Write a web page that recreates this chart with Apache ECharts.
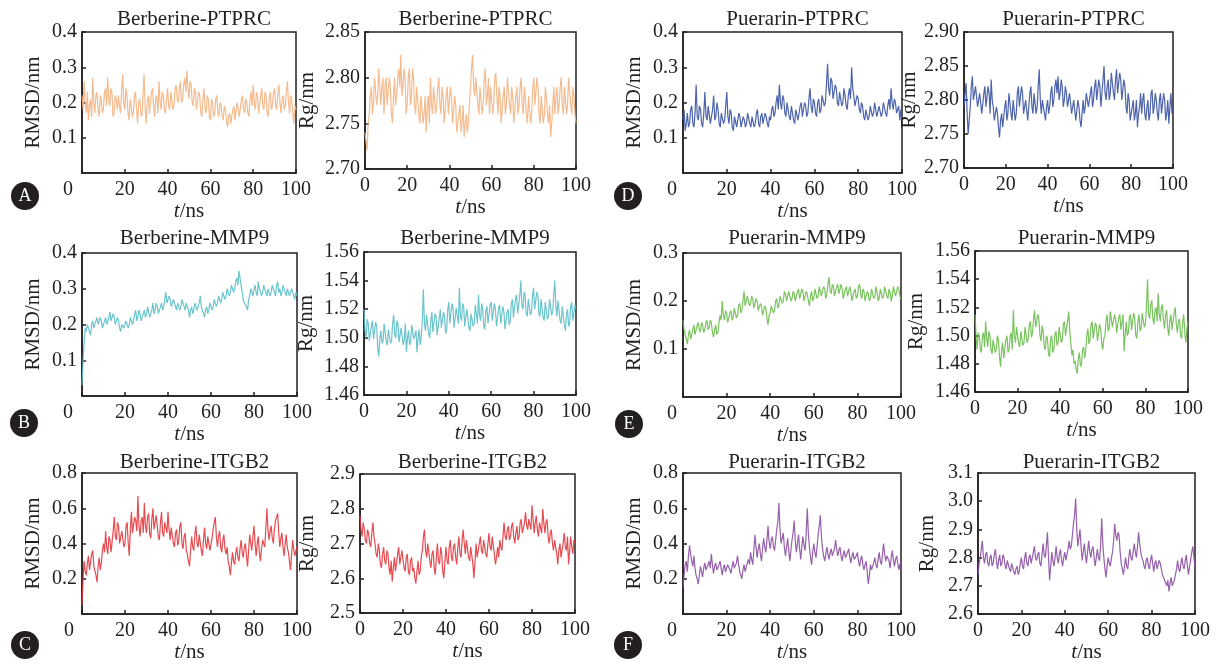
<!DOCTYPE html>
<html>
<head>
<meta charset="utf-8">
<script src="https://cdn.jsdelivr.net/npm/echarts@6/dist/echarts.min.js"></script>
<style>
  html, body { margin: 0; padding: 0; background: #ffffff; }
  #chart { width: 1218px; height: 664px; }
</style>
</head>
<body>
<div id="chart"></div>
<script>
// Molecular dynamics traces sampled every 0.5 ns over 0–100 ns.
const T_END_NS = 100;

const panelTitles = [
  'Berberine-PTPRC', 'Berberine-PTPRC', 'Puerarin-PTPRC', 'Puerarin-PTPRC',
  'Berberine-MMP9', 'Berberine-MMP9', 'Puerarin-MMP9', 'Puerarin-MMP9',
  'Berberine-ITGB2', 'Berberine-ITGB2', 'Puerarin-ITGB2', 'Puerarin-ITGB2'
];
const panelLetters = ['A', 'B', 'C', 'D', 'E', 'F'];
const xTicks = [0, 20, 40, 60, 80, 100];

// RMSD / Rg values in nm
const rmsdBerberinePTPRC = [0.22,0.18,0.26,0.2,0.17,0.23,0.15,0.19,0.21,0.16,0.27,0.2,0.17,0.22,0.23,0.18,0.16,0.22,0.21,0.17,0.18,0.23,0.24,0.19,0.27,0.21,0.19,0.24,0.23,0.16,0.17,0.22,0.21,0.18,0.22,0.19,0.17,0.23,0.28,0.2,0.18,0.24,0.22,0.17,0.15,0.21,0.19,0.16,0.17,0.22,0.23,0.18,0.14,0.2,0.21,0.17,0.16,0.22,0.28,0.19,0.14,0.2,0.22,0.17,0.17,0.23,0.24,0.18,0.16,0.22,0.21,0.17,0.26,0.2,0.18,0.23,0.22,0.18,0.17,0.21,0.24,0.19,0.18,0.23,0.23,0.18,0.19,0.24,0.25,0.21,0.2,0.24,0.26,0.2,0.21,0.25,0.27,0.23,0.29,0.24,0.21,0.26,0.25,0.2,0.19,0.24,0.23,0.18,0.18,0.23,0.22,0.17,0.16,0.21,0.24,0.18,0.17,0.22,0.21,0.16,0.15,0.21,0.2,0.16,0.17,0.21,0.22,0.17,0.16,0.2,0.19,0.16,0.15,0.19,0.18,0.15,0.13,0.16,0.17,0.14,0.14,0.18,0.19,0.15,0.15,0.2,0.2,0.16,0.16,0.21,0.22,0.18,0.17,0.21,0.2,0.17,0.16,0.21,0.23,0.19,0.25,0.2,0.18,0.23,0.22,0.17,0.17,0.22,0.24,0.19,0.18,0.23,0.22,0.17,0.16,0.21,0.23,0.18,0.19,0.23,0.24,0.19,0.18,0.23,0.25,0.2,0.17,0.21,0.22,0.18,0.19,0.23,0.26,0.2,0.17,0.22,0.21,0.17,0.14,0.19,0.18];
const rgBerberinePTPRC = [2.74,2.73,2.72,2.75,2.76,2.78,2.79,2.76,2.77,2.8,2.8,2.77,2.78,2.81,2.81,2.77,2.79,2.8,2.76,2.79,2.8,2.77,2.77,2.8,2.79,2.76,2.75,2.78,2.8,2.77,2.78,2.8,2.81,2.79,2.825,2.78,2.79,2.81,2.8,2.76,2.77,2.8,2.81,2.77,2.78,2.81,2.8,2.77,2.76,2.79,2.79,2.76,2.75,2.78,2.78,2.75,2.76,2.78,2.74,2.77,2.78,2.75,2.8,2.77,2.76,2.79,2.79,2.76,2.77,2.79,2.8,2.77,2.76,2.79,2.78,2.75,2.75,2.78,2.79,2.76,2.76,2.79,2.78,2.75,2.75,2.78,2.77,2.74,2.74,2.76,2.77,2.74,2.75,2.77,2.735,2.75,2.76,2.74,2.75,2.77,2.79,2.81,2.825,2.79,2.78,2.8,2.8,2.77,2.76,2.79,2.79,2.76,2.77,2.8,2.81,2.77,2.78,2.8,2.76,2.79,2.79,2.76,2.77,2.8,2.805,2.78,2.76,2.79,2.78,2.75,2.75,2.78,2.79,2.76,2.77,2.8,2.8,2.77,2.76,2.79,2.78,2.75,2.75,2.78,2.79,2.76,2.77,2.79,2.8,2.77,2.76,2.79,2.79,2.76,2.75,2.78,2.78,2.75,2.76,2.79,2.8,2.77,2.77,2.8,2.79,2.76,2.75,2.78,2.78,2.75,2.76,2.79,2.79,2.76,2.75,2.77,2.735,2.75,2.77,2.79,2.76,2.78,2.79,2.76,2.77,2.79,2.8,2.77,2.76,2.79,2.79,2.76,2.77,2.8,2.8,2.77,2.76,2.79,2.78,2.76,2.75];
const rmsdPuerarinPTPRC = [0.15,0.18,0.12,0.14,0.17,0.13,0.14,0.18,0.19,0.14,0.13,0.17,0.25,0.16,0.15,0.19,0.18,0.14,0.13,0.17,0.23,0.16,0.15,0.19,0.19,0.14,0.14,0.18,0.22,0.15,0.16,0.2,0.18,0.14,0.13,0.17,0.17,0.14,0.15,0.19,0.23,0.16,0.14,0.18,0.17,0.13,0.12,0.16,0.16,0.13,0.13,0.17,0.16,0.13,0.13,0.16,0.15,0.13,0.14,0.17,0.17,0.14,0.13,0.16,0.16,0.13,0.14,0.17,0.18,0.14,0.13,0.16,0.17,0.14,0.14,0.17,0.16,0.14,0.13,0.16,0.15,0.18,0.19,0.16,0.17,0.2,0.22,0.18,0.25,0.2,0.18,0.22,0.21,0.17,0.16,0.2,0.2,0.16,0.15,0.19,0.19,0.15,0.14,0.18,0.18,0.15,0.15,0.19,0.2,0.16,0.16,0.2,0.19,0.16,0.17,0.21,0.24,0.19,0.17,0.21,0.2,0.17,0.16,0.2,0.21,0.17,0.18,0.22,0.22,0.19,0.2,0.25,0.31,0.24,0.22,0.27,0.26,0.21,0.21,0.25,0.24,0.2,0.19,0.23,0.23,0.19,0.2,0.24,0.22,0.19,0.18,0.22,0.24,0.21,0.3,0.24,0.22,0.19,0.19,0.22,0.21,0.18,0.17,0.2,0.19,0.16,0.15,0.18,0.18,0.15,0.16,0.19,0.19,0.16,0.17,0.2,0.2,0.16,0.16,0.19,0.19,0.16,0.17,0.2,0.2,0.17,0.16,0.19,0.21,0.18,0.24,0.2,0.18,0.21,0.2,0.17,0.17,0.19,0.15,0.18,0.16];
const rgPuerarinPTPRC = [2.79,2.81,2.825,2.78,2.75,2.77,2.79,2.82,2.835,2.8,2.8,2.82,2.82,2.79,2.79,2.81,2.81,2.78,2.78,2.81,2.82,2.79,2.79,2.82,2.81,2.78,2.83,2.8,2.79,2.77,2.77,2.79,2.78,2.76,2.745,2.77,2.78,2.76,2.76,2.79,2.8,2.77,2.78,2.81,2.81,2.78,2.77,2.8,2.8,2.77,2.78,2.81,2.82,2.79,2.79,2.82,2.81,2.78,2.78,2.8,2.8,2.77,2.79,2.81,2.82,2.79,2.78,2.81,2.81,2.78,2.79,2.82,2.845,2.8,2.78,2.8,2.8,2.78,2.77,2.79,2.8,2.78,2.79,2.81,2.82,2.79,2.8,2.82,2.83,2.81,2.835,2.8,2.81,2.83,2.82,2.79,2.8,2.82,2.81,2.79,2.79,2.81,2.81,2.78,2.78,2.8,2.8,2.77,2.77,2.8,2.79,2.77,2.76,2.78,2.8,2.78,2.79,2.81,2.81,2.79,2.79,2.81,2.82,2.79,2.8,2.82,2.83,2.8,2.8,2.83,2.82,2.79,2.81,2.83,2.85,2.81,2.8,2.82,2.83,2.8,2.81,2.84,2.84,2.81,2.8,2.83,2.845,2.81,2.81,2.84,2.83,2.8,2.8,2.83,2.82,2.79,2.78,2.81,2.8,2.77,2.77,2.79,2.8,2.77,2.78,2.8,2.76,2.78,2.79,2.81,2.78,2.8,2.81,2.78,2.77,2.79,2.8,2.77,2.78,2.81,2.815,2.78,2.79,2.81,2.8,2.78,2.77,2.8,2.81,2.78,2.78,2.81,2.8,2.77,2.78,2.8,2.765,2.79,2.81,2.78,2.79];
const rmsdBerberineMMP9 = [0.03,0.1,0.15,0.19,0.18,0.2,0.2,0.18,0.17,0.2,0.21,0.19,0.19,0.21,0.22,0.2,0.2,0.22,0.21,0.19,0.19,0.21,0.22,0.2,0.2,0.22,0.235,0.21,0.21,0.23,0.22,0.2,0.2,0.22,0.21,0.19,0.18,0.2,0.2,0.19,0.19,0.21,0.21,0.19,0.2,0.22,0.22,0.2,0.21,0.23,0.24,0.21,0.22,0.24,0.23,0.21,0.21,0.23,0.24,0.22,0.23,0.25,0.25,0.22,0.22,0.24,0.26,0.23,0.24,0.26,0.25,0.23,0.23,0.25,0.26,0.24,0.25,0.27,0.29,0.26,0.26,0.28,0.27,0.25,0.25,0.27,0.27,0.25,0.24,0.26,0.26,0.24,0.25,0.27,0.27,0.25,0.24,0.26,0.26,0.24,0.22,0.24,0.25,0.23,0.24,0.26,0.26,0.24,0.24,0.26,0.28,0.25,0.25,0.23,0.22,0.24,0.25,0.23,0.24,0.26,0.26,0.24,0.25,0.27,0.27,0.25,0.26,0.28,0.28,0.26,0.27,0.29,0.29,0.27,0.28,0.3,0.3,0.28,0.29,0.31,0.31,0.29,0.3,0.32,0.33,0.31,0.35,0.33,0.31,0.29,0.27,0.26,0.26,0.25,0.24,0.27,0.28,0.3,0.29,0.28,0.3,0.31,0.29,0.28,0.32,0.3,0.3,0.28,0.29,0.31,0.31,0.29,0.28,0.3,0.3,0.28,0.29,0.31,0.31,0.29,0.28,0.31,0.32,0.29,0.3,0.28,0.29,0.31,0.31,0.29,0.28,0.3,0.3,0.28,0.28,0.3,0.3,0.28,0.27,0.29,0.28];
const rgBerberineMMP9 = [1.52,1.505,1.5,1.513,1.51,1.498,1.497,1.508,1.512,1.499,1.5,1.511,1.508,1.492,1.487,1.5,1.505,1.496,1.498,1.51,1.51,1.497,1.495,1.506,1.507,1.496,1.498,1.51,1.516,1.502,1.5,1.512,1.51,1.497,1.496,1.507,1.508,1.495,1.499,1.51,1.49,1.5,1.505,1.495,1.497,1.509,1.51,1.499,1.498,1.505,1.49,1.5,1.506,1.495,1.5,1.512,1.534,1.51,1.505,1.516,1.515,1.503,1.5,1.512,1.518,1.504,1.505,1.517,1.515,1.502,1.502,1.514,1.52,1.507,1.506,1.518,1.515,1.503,1.505,1.52,1.525,1.51,1.51,1.524,1.52,1.507,1.508,1.521,1.522,1.51,1.535,1.515,1.512,1.524,1.522,1.508,1.508,1.52,1.52,1.507,1.505,1.517,1.518,1.508,1.51,1.523,1.522,1.51,1.53,1.516,1.512,1.524,1.52,1.508,1.506,1.519,1.522,1.51,1.51,1.523,1.525,1.512,1.512,1.524,1.52,1.508,1.508,1.52,1.523,1.51,1.51,1.522,1.518,1.506,1.505,1.518,1.52,1.509,1.512,1.524,1.527,1.514,1.515,1.528,1.53,1.517,1.518,1.53,1.54,1.522,1.52,1.532,1.53,1.517,1.515,1.527,1.528,1.516,1.518,1.53,1.535,1.52,1.52,1.532,1.53,1.517,1.515,1.527,1.528,1.514,1.512,1.525,1.525,1.513,1.515,1.527,1.528,1.516,1.518,1.53,1.54,1.522,1.515,1.526,1.525,1.512,1.51,1.522,1.522,1.509,1.505,1.516,1.52,1.508,1.51,1.522,1.525,1.512,1.512,1.523,1.52];
const rmsdPuerarinMMP9 = [0.16,0.14,0.13,0.12,0.11,0.13,0.14,0.12,0.12,0.14,0.15,0.13,0.13,0.15,0.155,0.14,0.135,0.155,0.15,0.135,0.14,0.155,0.16,0.14,0.145,0.16,0.155,0.135,0.125,0.14,0.15,0.13,0.135,0.155,0.17,0.16,0.2,0.17,0.16,0.18,0.175,0.155,0.155,0.175,0.18,0.16,0.165,0.185,0.185,0.165,0.17,0.19,0.195,0.175,0.18,0.2,0.22,0.19,0.19,0.21,0.21,0.19,0.195,0.21,0.205,0.185,0.185,0.205,0.2,0.18,0.18,0.195,0.19,0.17,0.17,0.19,0.185,0.165,0.15,0.17,0.175,0.19,0.19,0.175,0.18,0.2,0.205,0.185,0.19,0.21,0.21,0.195,0.2,0.22,0.215,0.2,0.2,0.22,0.22,0.2,0.205,0.22,0.215,0.2,0.2,0.22,0.225,0.205,0.205,0.225,0.22,0.2,0.2,0.22,0.215,0.2,0.19,0.21,0.22,0.2,0.205,0.225,0.225,0.205,0.21,0.23,0.23,0.21,0.21,0.23,0.225,0.205,0.215,0.235,0.25,0.22,0.215,0.235,0.23,0.21,0.21,0.23,0.235,0.215,0.215,0.235,0.225,0.205,0.205,0.225,0.23,0.21,0.21,0.23,0.22,0.2,0.2,0.22,0.225,0.205,0.21,0.23,0.235,0.215,0.205,0.225,0.22,0.2,0.2,0.22,0.215,0.2,0.205,0.225,0.225,0.205,0.21,0.23,0.22,0.2,0.205,0.225,0.225,0.205,0.21,0.23,0.23,0.21,0.205,0.225,0.22,0.2,0.21,0.23,0.23,0.21,0.21,0.23,0.225,0.21,0.205];
const rgPuerarinMMP9 = [1.515,1.5,1.49,1.502,1.5,1.49,1.488,1.5,1.502,1.492,1.51,1.498,1.492,1.503,1.5,1.49,1.487,1.497,1.498,1.488,1.49,1.5,1.497,1.485,1.478,1.49,1.495,1.484,1.485,1.497,1.5,1.488,1.49,1.5,1.502,1.49,1.518,1.5,1.495,1.506,1.505,1.494,1.492,1.503,1.503,1.493,1.495,1.506,1.505,1.495,1.498,1.508,1.51,1.499,1.502,1.512,1.518,1.506,1.505,1.515,1.512,1.5,1.496,1.507,1.503,1.492,1.49,1.5,1.498,1.487,1.485,1.497,1.5,1.488,1.49,1.501,1.503,1.493,1.495,1.506,1.507,1.495,1.497,1.508,1.51,1.5,1.5,1.511,1.517,1.503,1.495,1.486,1.49,1.48,1.482,1.476,1.473,1.484,1.488,1.478,1.48,1.49,1.492,1.484,1.49,1.5,1.505,1.494,1.497,1.508,1.51,1.498,1.498,1.509,1.507,1.496,1.497,1.508,1.505,1.494,1.49,1.498,1.5,1.51,1.515,1.503,1.505,1.517,1.518,1.506,1.505,1.515,1.512,1.502,1.502,1.513,1.515,1.504,1.505,1.515,1.489,1.5,1.51,1.5,1.502,1.513,1.515,1.504,1.505,1.516,1.512,1.5,1.498,1.51,1.515,1.503,1.505,1.516,1.517,1.506,1.508,1.52,1.54,1.515,1.512,1.522,1.525,1.512,1.508,1.518,1.52,1.51,1.53,1.515,1.51,1.52,1.522,1.51,1.505,1.515,1.518,1.505,1.5,1.511,1.515,1.504,1.505,1.516,1.52,1.508,1.502,1.51,1.512,1.5,1.498,1.51,1.515,1.502,1.495,1.505,1.51];
const rmsdBerberineITGB2 = [0.05,0.2,0.3,0.24,0.22,0.29,0.33,0.25,0.26,0.34,0.36,0.27,0.28,0.22,0.18,0.27,0.32,0.25,0.29,0.36,0.4,0.35,0.47,0.38,0.34,0.44,0.42,0.35,0.36,0.47,0.55,0.44,0.42,0.52,0.5,0.4,0.39,0.47,0.48,0.38,0.4,0.5,0.52,0.4,0.33,0.48,0.58,0.46,0.45,0.55,0.53,0.47,0.67,0.5,0.44,0.53,0.55,0.46,0.63,0.5,0.46,0.55,0.57,0.45,0.43,0.54,0.6,0.48,0.47,0.56,0.55,0.44,0.42,0.52,0.58,0.46,0.44,0.52,0.53,0.46,0.58,0.48,0.42,0.49,0.5,0.4,0.38,0.46,0.48,0.39,0.41,0.5,0.52,0.4,0.37,0.44,0.46,0.36,0.34,0.3,0.27,0.36,0.44,0.38,0.36,0.45,0.5,0.4,0.38,0.45,0.46,0.36,0.33,0.42,0.49,0.4,0.37,0.44,0.45,0.36,0.35,0.43,0.48,0.52,0.55,0.44,0.38,0.44,0.47,0.38,0.35,0.42,0.45,0.37,0.34,0.38,0.3,0.27,0.22,0.29,0.35,0.3,0.28,0.34,0.38,0.32,0.3,0.37,0.42,0.35,0.32,0.38,0.4,0.33,0.27,0.36,0.45,0.4,0.36,0.44,0.5,0.4,0.33,0.4,0.44,0.35,0.3,0.37,0.42,0.4,0.38,0.48,0.6,0.48,0.42,0.47,0.5,0.43,0.4,0.48,0.53,0.55,0.57,0.46,0.38,0.43,0.46,0.38,0.33,0.4,0.45,0.38,0.35,0.3,0.25,0.34,0.42,0.36,0.33,0.36,0.38];
const rgBerberineITGB2 = [2.78,2.74,2.72,2.76,2.74,2.71,2.7,2.74,2.73,2.7,2.69,2.73,2.76,2.72,2.7,2.67,2.66,2.7,2.68,2.64,2.63,2.67,2.69,2.65,2.64,2.68,2.67,2.63,2.61,2.65,2.59,2.63,2.66,2.62,2.62,2.67,2.69,2.64,2.64,2.68,2.68,2.63,2.62,2.66,2.67,2.62,2.61,2.65,2.66,2.62,2.63,2.6,2.585,2.62,2.65,2.61,2.62,2.66,2.68,2.72,2.74,2.68,2.66,2.7,2.7,2.65,2.63,2.67,2.68,2.63,2.61,2.66,2.7,2.65,2.64,2.69,2.67,2.62,2.6,2.65,2.69,2.65,2.64,2.69,2.71,2.66,2.65,2.69,2.7,2.66,2.64,2.69,2.72,2.67,2.66,2.71,2.74,2.7,2.67,2.71,2.71,2.66,2.65,2.69,2.69,2.64,2.6,2.65,2.7,2.66,2.66,2.7,2.72,2.68,2.67,2.71,2.71,2.67,2.66,2.7,2.73,2.69,2.68,2.72,2.72,2.67,2.64,2.66,2.69,2.66,2.71,2.69,2.68,2.72,2.76,2.72,2.71,2.74,2.75,2.71,2.72,2.75,2.76,2.72,2.7,2.73,2.75,2.71,2.72,2.76,2.77,2.73,2.73,2.76,2.79,2.75,2.74,2.77,2.77,2.74,2.81,2.77,2.73,2.76,2.78,2.74,2.72,2.76,2.76,2.73,2.8,2.76,2.73,2.76,2.77,2.72,2.7,2.73,2.74,2.7,2.68,2.71,2.71,2.67,2.64,2.68,2.7,2.66,2.66,2.7,2.73,2.69,2.68,2.72,2.64,2.68,2.72,2.69,2.67,2.71,2.7];
const rmsdPuerarinITGB2 = [0.15,0.22,0.28,0.3,0.24,0.33,0.39,0.34,0.3,0.27,0.33,0.26,0.22,0.2,0.17,0.22,0.27,0.24,0.21,0.26,0.29,0.25,0.24,0.28,0.3,0.26,0.34,0.28,0.23,0.27,0.29,0.25,0.24,0.28,0.3,0.26,0.22,0.26,0.28,0.24,0.24,0.28,0.29,0.25,0.23,0.27,0.3,0.26,0.25,0.29,0.33,0.28,0.24,0.22,0.2,0.25,0.28,0.24,0.25,0.29,0.31,0.28,0.35,0.31,0.28,0.36,0.45,0.38,0.32,0.37,0.4,0.34,0.3,0.37,0.43,0.38,0.35,0.42,0.5,0.41,0.37,0.42,0.44,0.38,0.36,0.42,0.48,0.52,0.63,0.48,0.4,0.43,0.46,0.38,0.33,0.38,0.43,0.36,0.3,0.36,0.42,0.46,0.53,0.42,0.35,0.4,0.45,0.37,0.31,0.38,0.44,0.39,0.36,0.45,0.6,0.46,0.38,0.32,0.28,0.35,0.4,0.35,0.32,0.38,0.45,0.5,0.56,0.44,0.37,0.33,0.3,0.34,0.38,0.34,0.31,0.35,0.37,0.33,0.32,0.37,0.42,0.37,0.33,0.36,0.38,0.33,0.3,0.34,0.36,0.32,0.31,0.35,0.37,0.32,0.29,0.33,0.35,0.31,0.3,0.33,0.35,0.3,0.27,0.31,0.33,0.28,0.25,0.28,0.3,0.24,0.17,0.22,0.28,0.25,0.24,0.29,0.32,0.28,0.26,0.31,0.35,0.3,0.28,0.34,0.4,0.34,0.3,0.33,0.34,0.3,0.26,0.32,0.36,0.31,0.27,0.31,0.33,0.29,0.25,0.28,0.3];
const rgPuerarinITGB2 = [2.74,2.78,2.8,2.83,2.86,2.8,2.78,2.81,2.82,2.78,2.77,2.8,2.81,2.77,2.78,2.81,2.83,2.79,2.76,2.79,2.81,2.77,2.78,2.81,2.8,2.77,2.76,2.79,2.79,2.76,2.75,2.78,2.78,2.75,2.74,2.76,2.77,2.74,2.75,2.78,2.8,2.77,2.76,2.8,2.82,2.78,2.77,2.8,2.81,2.78,2.78,2.82,2.84,2.8,2.79,2.81,2.82,2.78,2.77,2.81,2.85,2.81,2.8,2.84,2.89,2.8,2.72,2.77,2.82,2.79,2.77,2.8,2.84,2.8,2.78,2.81,2.83,2.79,2.77,2.8,2.82,2.79,2.79,2.83,2.86,2.83,2.84,2.88,2.92,2.95,3.01,2.9,2.84,2.87,2.9,2.84,2.79,2.82,2.85,2.81,2.78,2.82,2.86,2.82,2.8,2.83,2.84,2.8,2.77,2.8,2.83,2.8,2.79,2.84,2.94,2.85,2.8,2.76,2.73,2.77,2.8,2.78,2.77,2.8,2.82,2.86,2.92,2.88,2.86,2.89,2.88,2.82,2.78,2.76,2.74,2.77,2.8,2.77,2.76,2.8,2.83,2.8,2.79,2.82,2.85,2.82,2.8,2.84,2.89,2.85,2.82,2.8,2.79,2.77,2.76,2.79,2.8,2.77,2.76,2.79,2.81,2.78,2.75,2.78,2.79,2.76,2.76,2.79,2.78,2.76,2.74,2.73,2.72,2.71,2.7,2.72,2.68,2.71,2.73,2.7,2.7,2.72,2.74,2.76,2.79,2.76,2.75,2.78,2.8,2.77,2.76,2.79,2.81,2.77,2.74,2.77,2.79,2.82,2.84,2.8,2.77];

const INK = '#231F20';
const FONT = '"Liberation Serif", "DejaVu Serif", serif';

// Panel order: row by row, left to right
const seriesValues = [
  rmsdBerberinePTPRC, rgBerberinePTPRC, rmsdPuerarinPTPRC, rgPuerarinPTPRC,
  rmsdBerberineMMP9, rgBerberineMMP9, rmsdPuerarinMMP9, rgPuerarinMMP9,
  rmsdBerberineITGB2, rgBerberineITGB2, rmsdPuerarinITGB2, rgPuerarinITGB2
];
const lineColors = [
  '#F4B483', '#F4B483', '#3A52A3', '#3A52A3',
  '#5BBFC8', '#5BBFC8', '#6CBD4E', '#6CBD4E',
  '#E2383F', '#E2383F', '#8B4FA2', '#8B4FA2'
];
// y scale: [min, max, step, decimals]
const yScales = [
  [0, 0.4, 0.1, 1], [2.70, 2.85, 0.05, 2], [0, 0.4, 0.1, 1], [2.70, 2.90, 0.05, 2],
  [0, 0.4, 0.1, 1], [1.46, 1.56, 0.02, 2], [0, 0.3, 0.1, 1], [1.46, 1.56, 0.02, 2],
  [0, 0.8, 0.2, 1], [2.5, 2.9, 0.1, 1], [0, 0.8, 0.2, 1], [2.6, 3.1, 0.1, 1]
];
const isRmsd = [true, false, true, false, true, false, true, false, true, false, true, false];

// Plot boxes: [left, top, width, height, yNameGap, zeroShift]
const boxes = [
  [82, 32, 214, 141, 38, 14], [365, 32, 211, 137, 47, 0], [683, 32, 219, 141, 38, 11], [964, 32, 209, 136, 44, 0],
  [82, 253, 215, 143, 38, 14], [364, 252, 212, 143, 47, 0], [683, 253, 218, 144, 38, 11], [975, 251, 213, 141, 48, 0],
  [82, 473, 215, 141, 38, 13], [360, 474, 215, 139, 42, 0], [683, 473, 218, 141, 38, 11], [978, 473, 217, 142, 40, 0]
];
const titleTops = [4, 223, 447];
const badgeSpots = [[25, 196], [24, 423], [25, 645], [628, 196], [629, 424], [628, 645]];

const textBase = { fontFamily: FONT, fontSize: 20, color: INK };
const nameBase = Object.assign({}, textBase, { fontSize: 21 });

const grids = [], xAxes = [], yAxes = [], series = [], titles = [];
boxes.forEach((b, i) => {
  const [left, top, width, height, yGap, zeroShift] = b;
  const [yMin, yMax, yStep, dec] = yScales[i];
  const values = seriesValues[i];
  grids.push({
    left, top, width, height, show: true,
    borderColor: INK, borderWidth: 1.5, backgroundColor: 'transparent', containLabel: false
  });
  titles.push({
    text: panelTitles[i], left: left + width / 2, top: titleTops[Math.floor(i / 4)],
    textAlign: 'center',
    textStyle: Object.assign({}, nameBase, { fontWeight: 'normal' })
  });
  xAxes.push({
    gridIndex: i, type: 'value', min: xTicks[0], max: xTicks[xTicks.length - 1], interval: 20,
    axisLine: { show: true, onZero: false, lineStyle: { color: INK, width: 1.5 } },
    axisTick: { show: true, inside: true, length: 4, lineStyle: { color: INK, width: 1.5 } },
    splitLine: { show: false },
    axisLabel: Object.assign({}, textBase, {
      margin: 7,
      formatter: v => (v === 0 && zeroShift) ? '{z|0}' : String(v),
      rich: { z: Object.assign({}, textBase, { padding: [0, zeroShift * 2, 0, 0] }) }
    }),
    name: '{i|t}/ns', nameLocation: 'middle', nameGap: 26,
    nameTextStyle: Object.assign({}, nameBase, {
      rich: { i: Object.assign({}, nameBase, { fontStyle: 'italic' }) }
    })
  });
  yAxes.push({
    gridIndex: i, type: 'value', min: yMin, max: yMax, interval: yStep,
    axisLine: { show: true, onZero: false, lineStyle: { color: INK, width: 1.5 } },
    axisTick: { show: true, inside: true, length: 4, lineStyle: { color: INK, width: 1.5 } },
    splitLine: { show: false },
    axisLabel: Object.assign({}, textBase, {
      margin: 5, showMinLabel: !isRmsd[i],
      formatter: v => Number(v).toFixed(dec)
    }),
    name: isRmsd[i] ? 'RMSD/nm' : 'Rg/nm', nameLocation: 'middle', nameGap: yGap,
    nameRotate: 90,
    nameTextStyle: Object.assign({}, nameBase)
  });
  series.push({
    type: 'line', xAxisIndex: i, yAxisIndex: i, symbol: 'none', showSymbol: false,
    sampling: false, animation: false, silent: true,
    lineStyle: { color: lineColors[i], width: 1.2, opacity: 0.9 },
    data: values.map((v, k) => [k * T_END_NS / (values.length - 1), v])
  });
});

// Panel letter badges
const badges = [];
badgeSpots.forEach((p, k) => {
  badges.push({
    type: 'circle', shape: { cx: p[0], cy: p[1], r: 14 },
    style: { fill: INK }, z: 10
  });
  badges.push({
    type: 'text', x: p[0], y: p[1], z: 11,
    style: {
      text: panelLetters[k], fill: '#ffffff', font: '18px ' + FONT,
      textAlign: 'center', textVerticalAlign: 'middle'
    }
  });
});

const chart = echarts.init(document.getElementById('chart'), null, { renderer: 'canvas' });
chart.setOption({
  backgroundColor: '#ffffff',
  animation: false,
  title: titles,
  grid: grids,
  xAxis: xAxes,
  yAxis: yAxes,
  series: series,
  graphic: badges
});
</script>
</body>
</html>
